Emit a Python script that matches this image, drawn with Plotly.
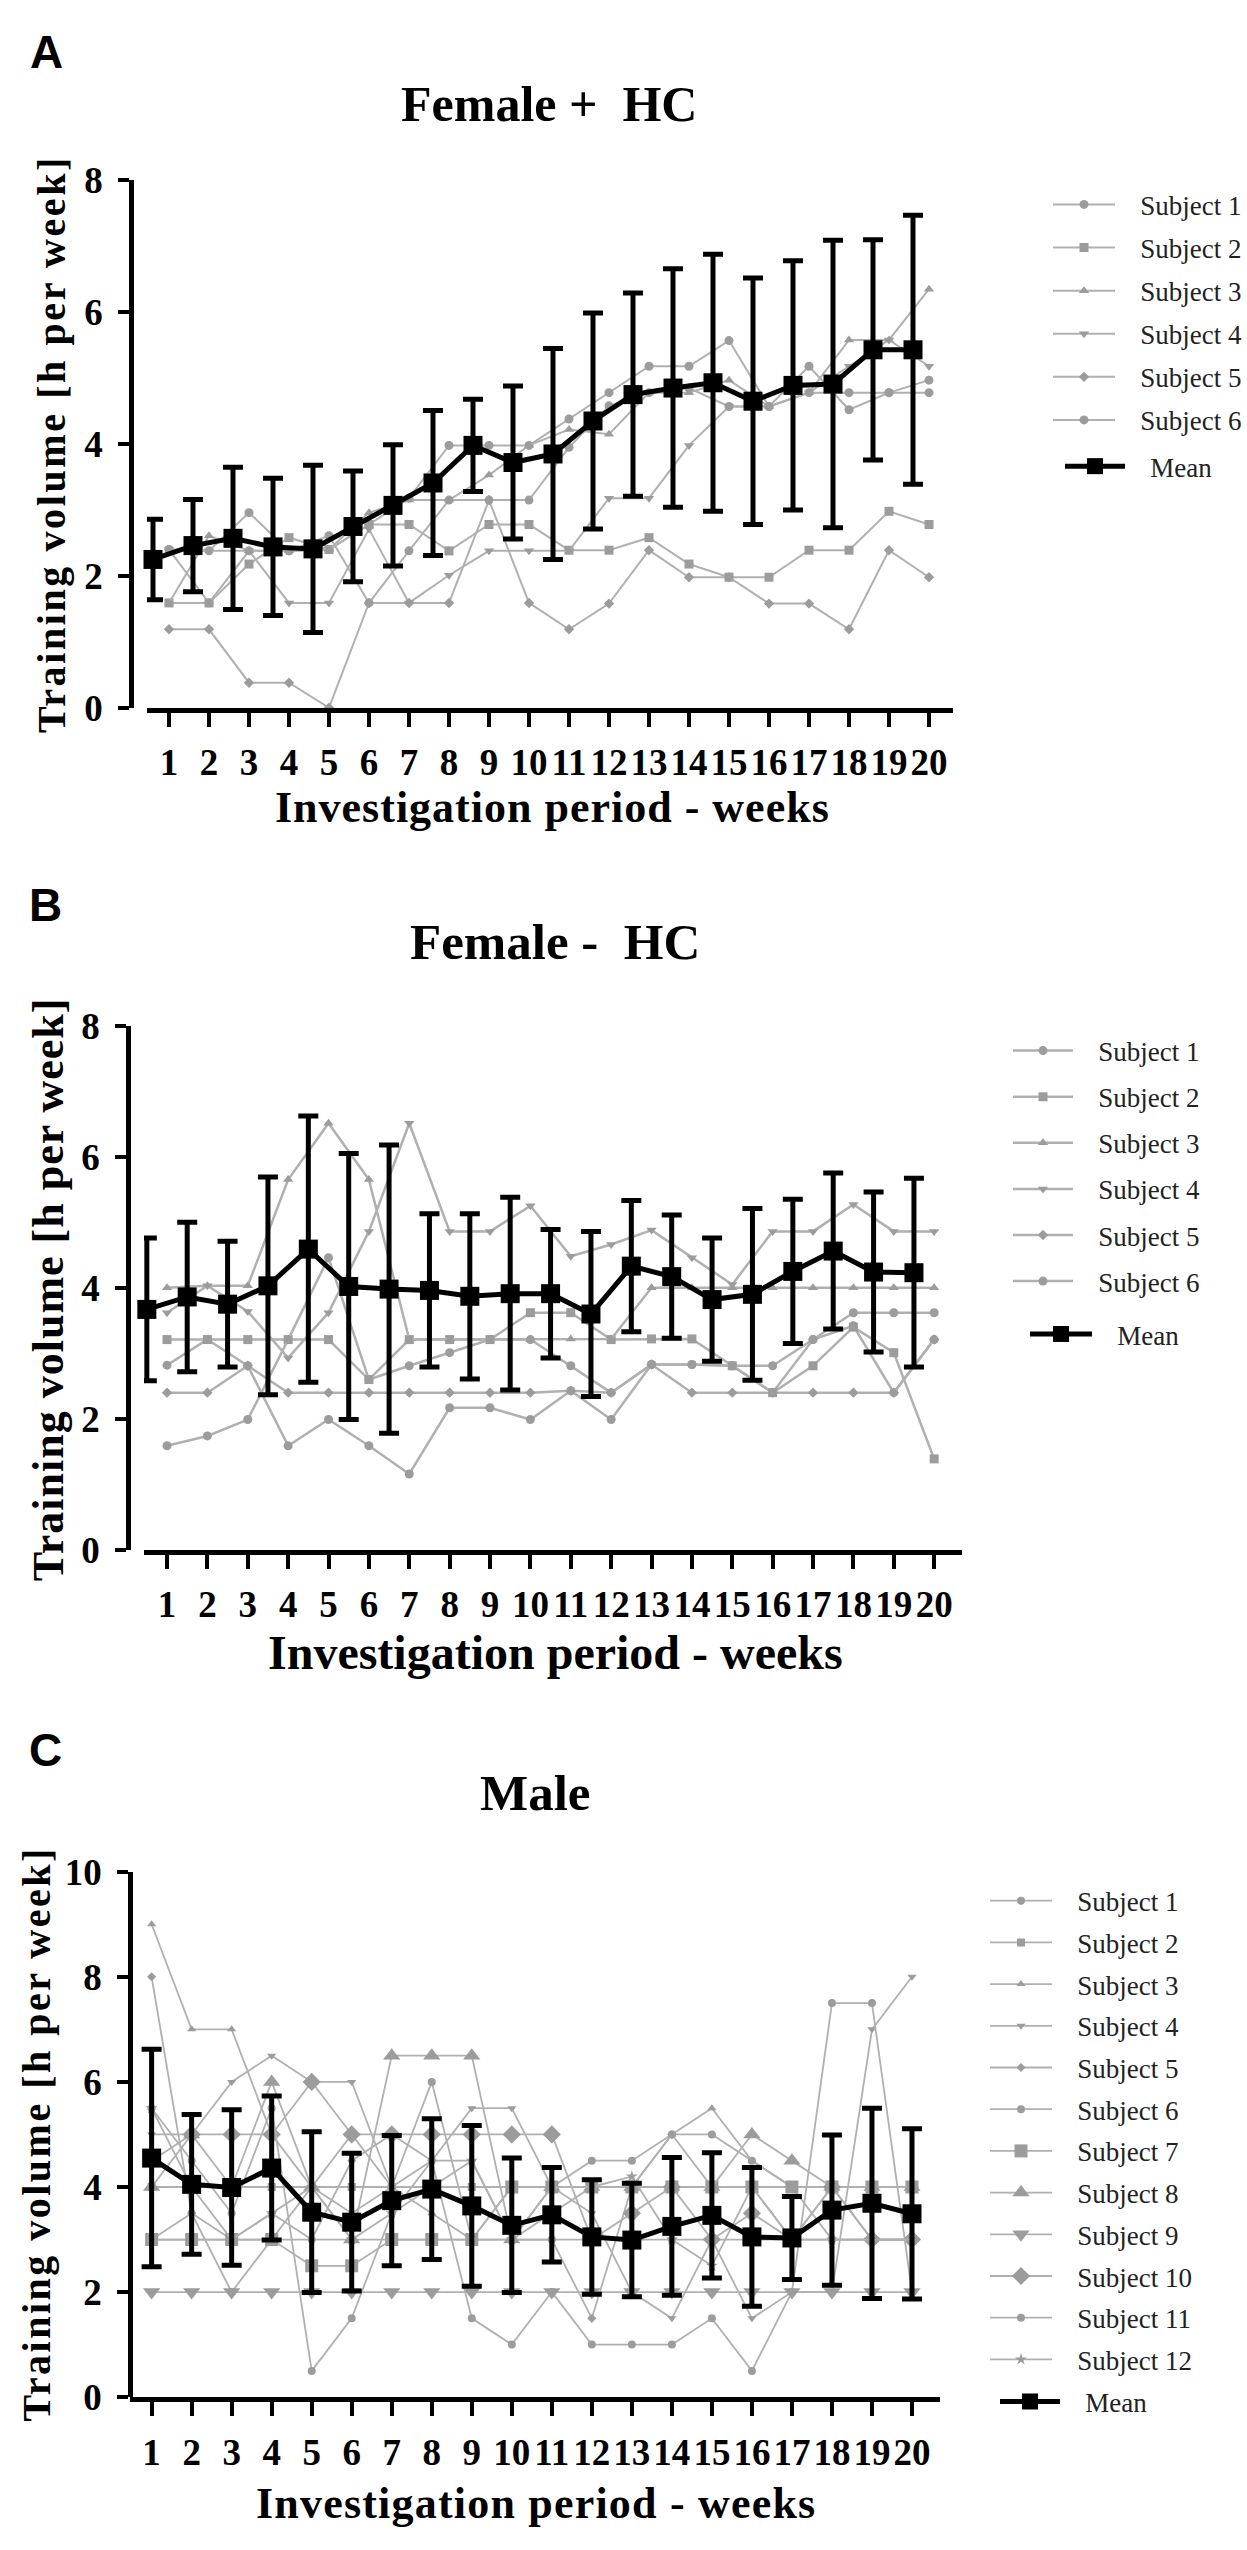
import plotly.graph_objects as go

W, H = 1247, 2550

weeks = list(range(1, 21))

# ---------------- A : Female + HC ----------------
a_s1 = [2.40, 2.38, 2.96, 2.38, 2.40, 2.78, 3.18, 3.98, 3.98, 3.98, 4.38, 4.78, 5.18, 5.18, 5.57, 4.57, 5.18, 4.52, 4.78, 4.97]
a_s2 = [1.59, 1.59, 2.18, 2.58, 2.40, 2.78, 2.78, 2.38, 2.78, 2.78, 2.39, 2.39, 2.58, 2.18, 1.98, 1.98, 2.39, 2.39, 2.98, 2.78]
a_s3 = [1.59, 2.61, 2.38, 2.38, 2.40, 2.96, 3.15, 3.15, 3.53, 3.98, 4.22, 4.15, 4.78, 4.78, 4.97, 4.57, 4.78, 5.58, 5.58, 6.35]
a_s4 = [2.40, 2.38, 2.38, 1.59, 1.59, 2.71, 1.59, 2.01, 2.38, 2.38, 2.38, 3.18, 3.18, 3.98, 4.57, 4.57, 4.78, 5.18, 5.58, 5.18]
a_s5 = [1.19, 1.19, 0.38, 0.38, 0.00, 1.59, 1.59, 1.59, 3.15, 1.59, 1.19, 1.58, 2.39, 1.98, 1.98, 1.58, 1.58, 1.19, 2.39, 1.98]
a_s6 = [2.40, 1.59, 2.38, 2.38, 2.61, 1.59, 2.38, 3.15, 3.15, 3.15, 3.95, 4.58, 4.78, 4.85, 4.57, 4.57, 4.78, 4.78, 4.78, 4.78]
a_mean = [2.25, 2.46, 2.57, 2.44, 2.41, 2.75, 3.07, 3.41, 3.98, 3.72, 3.85, 4.35, 4.75, 4.85, 4.93, 4.65, 4.89, 4.91, 5.43, 5.43]
a_sd = [0.61, 0.70, 1.08, 1.04, 1.27, 0.84, 0.92, 1.10, 0.70, 1.16, 1.60, 1.64, 1.54, 1.81, 1.95, 1.87, 1.89, 2.18, 1.67, 2.04]

# ---------------- B : Female - HC ----------------
b_s1 = [2.82, 3.21, 2.81, 1.59, 1.99, 1.59, 1.16, 2.17, 2.17, 1.99, 2.43, 1.99, 2.83, 2.83, 2.81, 2.40, 3.21, 3.42, 2.40, 3.21]
b_s2 = [3.21, 3.21, 3.21, 3.21, 3.21, 2.60, 3.21, 3.21, 3.21, 3.62, 3.62, 3.21, 3.22, 3.22, 2.81, 2.40, 2.81, 3.40, 3.01, 1.39]
b_s3 = [4.00, 4.03, 4.03, 5.65, 6.51, 5.65, 3.21, 3.21, 3.21, 3.21, 3.22, 3.22, 4.00, 4.00, 4.00, 4.00, 4.00, 4.00, 4.00, 4.00]
b_s4 = [3.62, 4.03, 3.64, 2.93, 3.62, 4.86, 6.51, 4.86, 4.86, 5.25, 4.48, 4.66, 4.88, 4.46, 4.05, 4.86, 4.86, 5.27, 4.86, 4.86]
b_s5 = [2.40, 2.40, 2.81, 2.40, 2.40, 2.40, 2.40, 2.40, 2.40, 2.40, 2.43, 2.40, 2.83, 2.40, 2.40, 2.40, 2.40, 2.40, 2.40, 3.21]
b_s6 = [1.59, 1.74, 1.99, 3.21, 4.46, 2.60, 2.81, 3.01, 3.21, 3.21, 2.81, 2.40, 2.83, 2.83, 2.81, 2.81, 3.21, 3.62, 3.62, 3.62]
b_mean = [3.67, 3.86, 3.75, 4.03, 4.59, 4.02, 3.98, 3.96, 3.87, 3.91, 3.91, 3.60, 4.33, 4.17, 3.82, 3.90, 4.25, 4.56, 4.24, 4.23]
b_sd = [1.09, 1.14, 0.96, 1.66, 2.03, 2.03, 2.20, 1.17, 1.26, 1.47, 0.98, 1.26, 1.00, 0.94, 0.94, 1.31, 1.10, 1.19, 1.22, 1.44]

# ---------------- C : Male ----------------
c_s1 = [3.0, 3.5, 2.0, 3.0, 4.0, 5.0, 4.0, 6.0, 3.0, 4.0, 4.0, 4.5, 4.5, 5.0, 5.0, 4.5, 4.0, 3.0, 3.0, 3.0]
c_s2 = [4.0, 4.0, 4.0, 4.0, 4.0, 4.0, 4.0, 4.0, 4.0, 4.0, 4.0, 4.0, 4.0, 4.0, 4.0, 4.0, 4.0, 4.0, 4.0, 4.0]
c_s3 = [9.0, 7.0, 7.0, 5.0, 4.0, 3.5, 4.0, 3.5, 3.0, 3.0, 3.5, 4.0, 4.0, 5.0, 5.5, 4.5, 4.0, 4.0, 4.0, 4.0]
c_s4 = [5.0, 5.0, 6.0, 6.5, 6.0, 6.0, 4.0, 4.5, 5.5, 5.5, 4.0, 3.5, 2.0, 1.5, 3.0, 1.5, 2.0, 2.0, 7.0, 8.0]
c_s5 = [8.0, 3.5, 3.0, 3.5, 3.0, 4.5, 5.0, 4.5, 4.5, 3.0, 3.0, 1.5, 4.0, 5.0, 4.0, 4.0, 3.0, 4.0, 3.0, 3.0]
c_s6 = [3.0, 3.0, 3.0, 3.0, 3.0, 3.0, 3.0, 3.0, 3.0, 3.0, 3.0, 3.0, 3.0, 3.0, 3.0, 3.0, 3.0, 3.0, 3.0, 3.0]
c_s7 = [3.0, 3.0, 3.0, 3.0, 2.5, 2.5, 3.0, 3.0, 3.0, 4.0, 4.0, 4.0, 4.0, 4.0, 4.0, 4.0, 4.0, 4.0, 4.0, 4.0]
c_s8 = [4.0, 5.0, 4.0, 6.0, 4.0, 3.0, 6.5, 6.5, 6.5, 3.0, 4.0, 4.0, 4.0, 4.0, 4.0, 5.0, 4.5, 4.0, 4.0, 4.0]
c_s9 = [2.0, 2.0, 2.0, 2.0, 2.0, 2.0, 2.0, 2.0, 2.0, 2.0, 2.0, 2.0, 2.0, 2.0, 2.0, 2.0, 2.0, 2.0, 2.0, 2.0]
c_s10 = [4.5, 5.0, 5.0, 5.0, 6.0, 5.0, 5.0, 5.0, 5.0, 5.0, 5.0, 3.0, 3.5, 4.0, 3.0, 3.5, 3.0, 4.0, 3.0, 3.0]
c_s11 = [5.5, 4.5, 3.5, 5.5, 0.5, 1.5, 3.5, 4.5, 1.5, 1.0, 2.0, 1.0, 1.0, 1.0, 1.5, 0.5, 2.0, 7.5, 7.5, 2.0]
c_s12 = [5.5, 4.0, 3.0, 3.5, 4.0, 3.0, 3.5, 4.0, 4.5, 3.0, 4.0, 4.0, 4.2, 3.0, 2.5, 4.0, 3.0, 3.0, 3.0, 3.0]
c_mean = [4.55, 4.05, 3.99, 4.36, 3.52, 3.33, 3.74, 3.96, 3.64, 3.27, 3.47, 3.05, 2.99, 3.25, 3.46, 3.05, 3.03, 3.56, 3.69, 3.49]
c_sd = [2.07, 1.33, 1.48, 1.37, 1.53, 1.31, 1.24, 1.34, 1.53, 1.28, 0.90, 1.09, 1.08, 1.31, 1.19, 1.32, 0.79, 1.43, 1.81, 1.62]

a_subjects = [a_s1, a_s2, a_s3, a_s4, a_s5, a_s6]
b_subjects = [b_s1, b_s2, b_s3, b_s4, b_s5, b_s6]
c_subjects = [c_s1, c_s2, c_s3, c_s4, c_s5, c_s6, c_s7, c_s8, c_s9, c_s10, c_s11, c_s12]

sym6 = ['circle', 'square', 'triangle-up', 'triangle-down', 'diamond', 'circle']
sym12 = ['circle', 'square', 'triangle-up', 'triangle-down', 'diamond', 'circle',
         'square', 'triangle-up', 'triangle-down', 'diamond', 'circle', 'star']
size6 = [9, 9, 9, 9, 8, 9]
size12 = [8, 8, 8, 8, 7, 8, 13, 15, 15, 14, 8, 9]

LINE_GREY = '#b0b0b0'
MARK_GREY = '#9c9c9c'
SERIF = 'Liberation Serif'
PAD = '\u00a0\u00a0\u00a0'   # gap between legend symbol and label, as in the figure


def px_x(p):
    return p / W


def px_y(p):
    return 1 - p / H


fig = go.Figure()


def add_panel(subjects, symbols, sizes, mean, sd, offset, n, leg_s, leg_m, lw):
    xa = 'x' if n == 1 else 'x%d' % n
    ya = 'y' if n == 1 else 'y%d' % n
    for i, vals in enumerate(subjects):
        fig.add_trace(go.Scatter(
            x=weeks, y=vals, mode='lines+markers', name=PAD + 'Subject %d' % (i + 1),
            line=dict(color=LINE_GREY, width=lw),
            marker=dict(symbol=symbols[i], size=sizes[i], color=MARK_GREY),
            xaxis=xa, yaxis=ya, legend=leg_s, legendgroup='%s_%d' % (leg_s, i),
            cliponaxis=False, hoverinfo='skip'))
    fig.add_trace(go.Scatter(
        x=[w + offset for w in weeks], y=mean, mode='lines+markers', name=PAD + 'Mean',
        line=dict(color='black', width=5),
        marker=dict(symbol='square', size=19, color='black'),
        error_y=dict(type='data', array=sd, color='black', thickness=5, width=10),
        xaxis=xa, yaxis=ya, legend=leg_m, cliponaxis=False))


add_panel(a_subjects, sym6, size6, a_mean, a_sd, -0.4, 1, 'legend', 'legend2', 2)
add_panel(b_subjects, sym6, size6, b_mean, b_sd, -0.5, 2, 'legend3', 'legend4', 2.5)
add_panel(c_subjects, sym12, size12, c_mean, c_sd, 0.0, 3, 'legend5', 'legend6', 1.8)

tickfont = dict(family=SERIF, size=37, color='black', weight='bold')


def xaxis_cfg(x0, x1, r0, r1, anchor):
    return dict(domain=[px_x(x0), px_x(x1)], range=[r0, r1], anchor=anchor,
                tickmode='array', tickvals=weeks, ticks='outside', ticklen=14,
                tickwidth=3.5, tickcolor='black', showline=True, linewidth=5,
                linecolor='black', showgrid=False, zeroline=False,
                tickfont=tickfont, ticklabelstandoff=4, fixedrange=True)


def yaxis_cfg(top, bottom, ymax, pos):
    return dict(domain=[px_y(bottom), px_y(top)], range=[0, ymax], anchor='free',
                position=px_x(pos), dtick=2, ticks='outside', ticklen=11,
                tickwidth=3.5, tickcolor='black', showline=True, linewidth=4.5,
                linecolor='black', showgrid=False, zeroline=False,
                tickfont=tickfont, ticklabelstandoff=8, fixedrange=True)


def legend_cfg(x, top, gap, iw):
    return dict(x=px_x(x), y=px_y(top), xanchor='left', yanchor='top',
                font=dict(family=SERIF, size=27, color='#222222'),
                itemwidth=iw, tracegroupgap=gap, traceorder='grouped',
                bgcolor='rgba(0,0,0,0)', borderwidth=0)


def text_ann(x, y, text, size, family=SERIF, angle=0):
    return dict(x=px_x(x), y=px_y(y), xref='paper', yref='paper', text=text,
                showarrow=False, xanchor='center', yanchor='middle', textangle=angle,
                font=dict(family=family, size=size, color='black', weight='bold'))


ylab = 'Training volume [h per week]'
xlab = 'Investigation period - weeks'

annotations = [
    text_ann(46, 33, 'A', 46, 'Liberation Sans'),
    text_ann(45, 899, 'B', 46, 'Liberation Sans'),
    text_ann(45, 1758, 'C', 46, 'Liberation Sans'),
    text_ann(549, 85, 'Female +\u00a0 HC', 50),
    text_ann(555, 937, 'Female -\u00a0 HC', 51),
    text_ann(535, 1802, 'Male', 51),
    text_ann(51, 431, '<span style="letter-spacing:2.6px">%s</span>' % ylab, 40, angle=-90),
    text_ann(48, 1290, '<span style="letter-spacing:1px">%s</span>' % ylab, 44, angle=-90),
    text_ann(36, 2149, '<span style="letter-spacing:2.5px">%s</span>' % ylab, 40, angle=-90),
    text_ann(552, 800, '<span style="letter-spacing:1px">%s</span>' % xlab, 44),
    text_ann(555, 1659, xlab, 48),
    text_ann(536, 2524, '<span style="letter-spacing:1.2px">%s</span>' % xlab, 44),
]

fig.update_layout(
    width=W, height=H,
    margin=dict(l=0, r=0, t=0, b=0),
    paper_bgcolor='white', plot_bgcolor='white',
    showlegend=True,
    xaxis=xaxis_cfg(147, 953, 0.45, 20.6, 'y'),
    yaxis=yaxis_cfg(163, 699, 8, 131),
    xaxis2=xaxis_cfg(144, 962, 0.43, 20.69, 'y2'),
    yaxis2=yaxis_cfg(1022, 1555, 8, 128),
    xaxis3=xaxis_cfg(130, 940, 0.46, 20.7, 'y3'),
    yaxis3=yaxis_cfg(1882, 2416, 10, 130),
    legend=legend_cfg(1048, 163, 5, 62),
    legend2=legend_cfg(1060, 429, 0, 60),
    legend3=legend_cfg(1008, 1023, 8, 60),
    legend4=legend_cfg(1025, 1311, 0, 62),
    legend5=legend_cfg(985, 1887, 3.6, 62),
    legend6=legend_cfg(995, 2396, 0, 60),
    annotations=annotations,
)

fig.write_html("out.html", config={'displayModeBar': False},
               post_script="document.body.style.margin='0';")
